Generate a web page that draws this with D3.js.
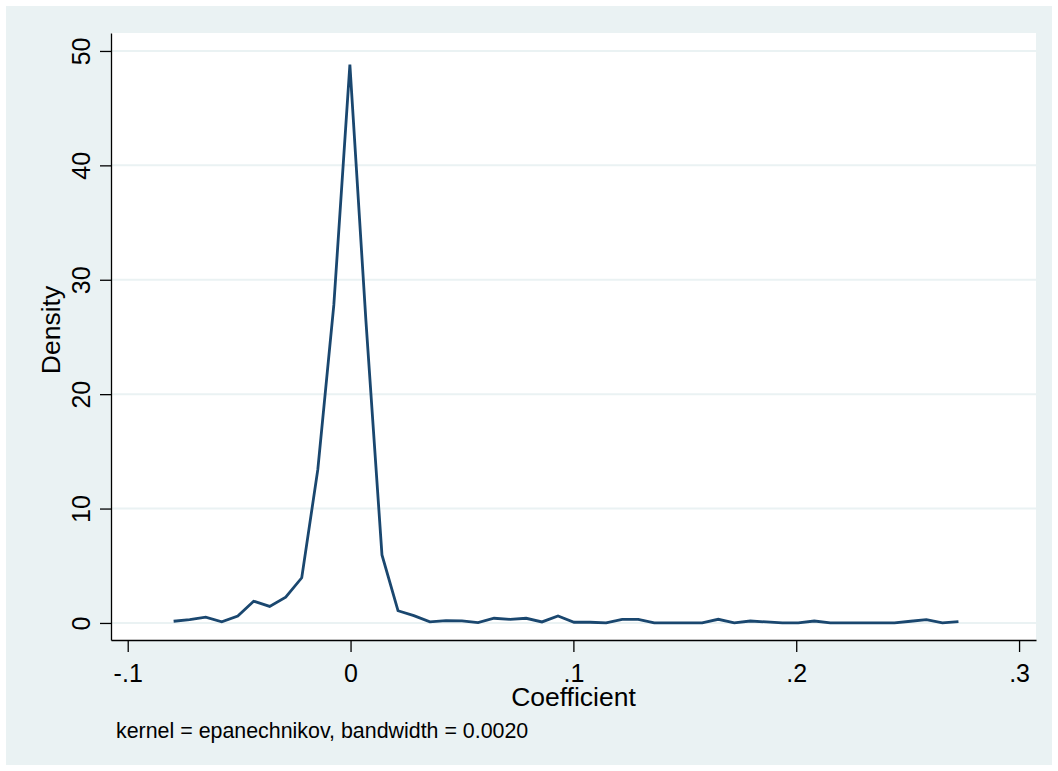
<!DOCTYPE html>
<html>
<head>
<meta charset="utf-8">
<script src="https://cdn.jsdelivr.net/npm/d3@7"></script>
<style>
  html, body { margin: 0; padding: 0; background: #ffffff; }
  svg { display: block; font-family: "Liberation Sans", Arial, sans-serif; }
</style>
</head>
<body>
<svg id="chart"></svg>
<script>
/* Data: kernel density estimate, 50 evaluation points */
const coefX = [
  -0.0794, -0.0722, -0.0650, -0.0578, -0.0506, -0.0435, -0.0363, -0.0291, -0.0219, -0.0147,
  -0.0075, -0.0003, 0.0069, 0.0141, 0.0213, 0.0284, 0.0356, 0.0428, 0.0500, 0.0572,
  0.0644, 0.0716, 0.0788, 0.0859, 0.0931, 0.1003, 0.1075, 0.1147, 0.1219, 0.1291,
  0.1363, 0.1434, 0.1506, 0.1578, 0.1650, 0.1722, 0.1794, 0.1866, 0.1938, 0.2009,
  0.2081, 0.2153, 0.2225, 0.2297, 0.2369, 0.2441, 0.2513, 0.2584, 0.2656, 0.2728
]
const density = [
  0.15, 0.30, 0.50, 0.10, 0.60, 1.90, 1.45, 2.25, 3.95, 13.4,
  27.8, 48.8, 26.4, 5.95, 1.07, 0.64, 0.09, 0.20, 0.18, 0.03,
  0.41, 0.32, 0.41, 0.09, 0.61, 0.06, 0.06, 0.00, 0.32, 0.32,
  0.00, 0.00, 0.00, 0.00, 0.32, 0.00, 0.17, 0.09, 0.00, 0.00,
  0.17, 0.00, 0.00, 0.00, 0.00, 0.00, 0.15, 0.29, 0.00, 0.11
]
const xTicks = [-0.1, 0, 0.1, 0.2, 0.3]
const xTickLabels = ['-.1', '0', '.1', '.2', '.3']
const yTicks = [0, 10, 20, 30, 40, 50]
const xTitle = 'Coefficient'
const yTitle = 'Density'
const note = 'kernel = epanechnikov, bandwidth = 0.0020'

/* Colors */
const BG = '#eaf2f3'
const LINE = '#1a476f'

!(function() {
  let width = 1058, height = 771;
  let plot = { left: 111, right: 1036, top: 33, bottom: 640 };

  let svg = d3.select('#chart')
    .attr('width', width)
    .attr('height', height);

  // graph region + plot region
  svg.append('rect')
    .attr('x', 6).attr('y', 6)
    .attr('width', width - 12).attr('height', height - 12)
    .attr('fill', BG);
  svg.append('rect')
    .attr('x', plot.left).attr('y', plot.top)
    .attr('width', plot.right - plot.left).attr('height', plot.bottom - plot.top)
    .attr('fill', '#ffffff');

  let x = d3.scaleLinear()
    .domain([-0.1075, 0.3076])
    .range([plot.left, plot.right]);
  let y = d3.scaleLinear()
    .domain([-1.49, 51.57])
    .range([plot.bottom, plot.top]);

  // gridlines
  svg.append('g')
    .selectAll('line')
    .data(yTicks)
    .enter().append('line')
    .attr('x1', plot.left)
    .attr('x2', plot.right)
    .attr('y1', d => y(d))
    .attr('y2', d => y(d))
    .attr('stroke', BG)
    .attr('stroke-width', 2);

  // density line
  let valueline = d3.line()
    .x((d, i) => x(coefX[i]))
    .y(d => y(d));

  svg.append('path')
    .datum(density)
    .attr('d', valueline)
    .attr('fill', 'none')
    .attr('stroke', LINE)
    .attr('stroke-width', 2.8)
    .attr('stroke-linejoin', 'miter');

  // x axis
  let xAxis = svg.append('g')
    .attr('transform', 'translate(0,' + plot.bottom + ')')
    .call(d3.axisBottom(x)
      .tickValues(xTicks)
      .tickFormat((d, i) => xTickLabels[i])
      .tickSize(12)
      .tickSizeOuter(0));
  xAxis.selectAll('text')
    .attr('y', 42)
    .attr('dy', 0)
    .attr('fill', '#000')
    .style('font-size', '25px');

  // y axis
  let yAxis = svg.append('g')
    .attr('transform', 'translate(' + plot.left + ',0)')
    .call(d3.axisLeft(y)
      .tickValues(yTicks)
      .tickFormat(d3.format('d'))
      .tickSize(11)
      .tickSizeOuter(0));
  yAxis.selectAll('text')
    .attr('transform', 'rotate(-90)')
    .attr('x', 0)
    .attr('y', -21)
    .attr('dy', 0)
    .attr('text-anchor', 'middle')
    .attr('fill', '#000')
    .style('font-size', '25px');

  svg.selectAll('.domain, .tick line')
    .attr('stroke', '#000')
    .attr('stroke-width', 1.3);

  // titles
  svg.append('text')
    .attr('x', (plot.left + plot.right) / 2)
    .attr('y', 706)
    .attr('text-anchor', 'middle')
    .style('font-size', '26.5px')
    .text(xTitle);

  svg.append('text')
    .attr('transform', 'translate(59.5,330) rotate(-90)')
    .attr('text-anchor', 'middle')
    .style('font-size', '26.5px')
    .text(yTitle);

  svg.append('text')
    .attr('x', 116)
    .attr('y', 738)
    .style('font-size', '21.4px')
    .text(note);
})();
</script>
</body>
</html>
